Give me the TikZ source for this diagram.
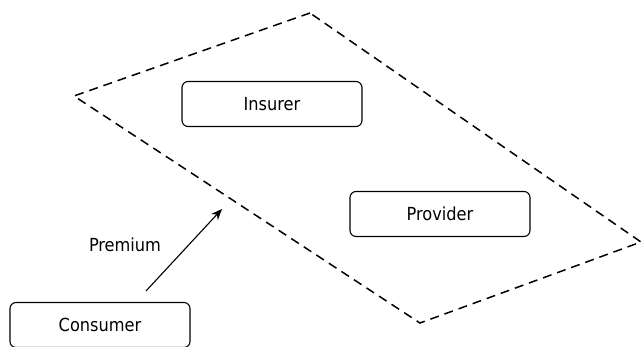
\documentclass[tikz,border=0pt]{standalone}
\usepackage{fontspec}
\setmainfont{DejaVu Sans Condensed}
\usetikzlibrary{arrows.meta}
\begin{document}
\begin{tikzpicture}[x=1pt,y=-1pt,
  box/.style={draw,line width=1.1pt,rounded corners=6pt,minimum width=180pt,minimum height=45pt,inner sep=0pt,font=\fontsize{18}{20}\selectfont},
  lbl/.style={font=\fontsize{18}{20}\selectfont,inner sep=0pt},
  zone/.style={draw,dashed,line width=1.5pt,dash pattern=on 9pt off 6pt}]
\useasboundingbox (0,0) rectangle (641,346);
\clip (0,0) rectangle (641,346);
\coordinate (t) at (310,13);
\coordinate (l) at (74,96);
\coordinate (b) at (420,323);
\coordinate (r) at (641,242);
\draw[zone] (t) -- (l) -- (b) -- (r) -- cycle;
\node[box] (ins) at (272,104) {Insurer};
\node[box] (prov) at (440,214) {Provider};
\node[box] (cons) at (100,325) {Consumer};
\coordinate (as) at (146,291);
\coordinate (ae) at (222,209);
\draw[line width=1.1pt,-{Stealth[length=11pt,width=9pt]}] (as) -- (ae);
\node[lbl] (prem) at (125,245) {Premium};
\end{tikzpicture}
\end{document}
